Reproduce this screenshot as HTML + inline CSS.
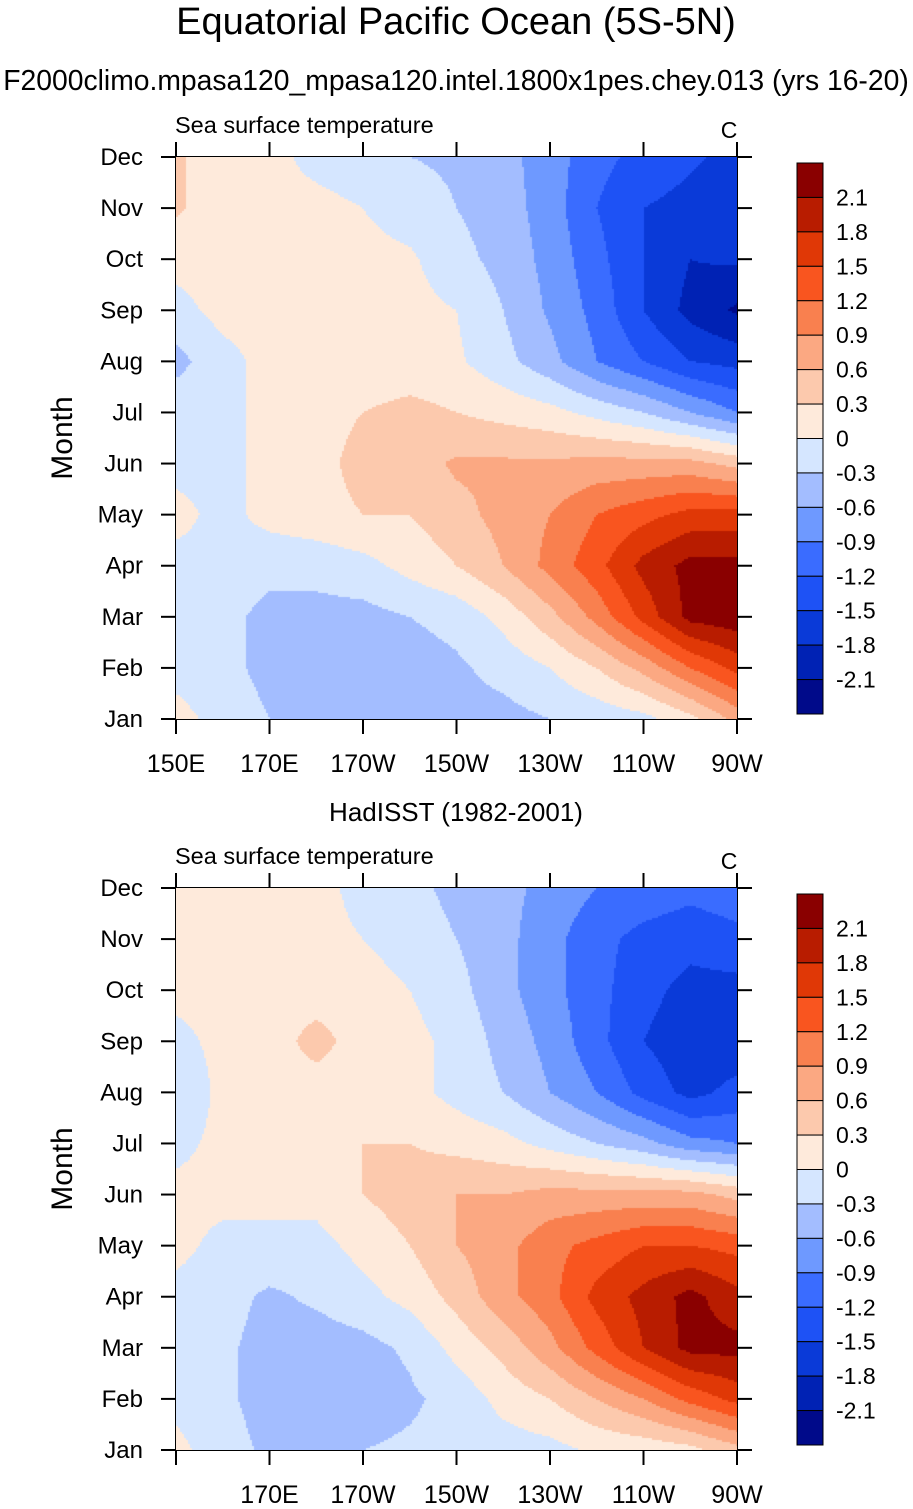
<!DOCTYPE html>
<html><head><meta charset="utf-8"><style>
body{margin:0;background:#fff;width:913px;height:1509px;position:relative;overflow:hidden;font-family:"Liberation Sans",sans-serif}
</style></head><body>
<svg id="svg" width="913" height="1509" xmlns="http://www.w3.org/2000/svg" style="position:absolute;left:0;top:0">
<text x="456" y="34" text-anchor="middle" font-size="38">Equatorial Pacific Ocean (5S-5N)</text>
<text x="456" y="90" text-anchor="middle" font-size="28.3">F2000climo.mpasa120_mpasa120.intel.1800x1pes.chey.013 (yrs 16-20)</text>
<text x="456" y="821" text-anchor="middle" font-size="26">HadISST (1982-2001)</text>
</svg>
<canvas id="c1" width="561" height="562" style="position:absolute;left:176px;top:157px"></canvas>
<canvas id="c2" width="561" height="562" style="position:absolute;left:176px;top:888px"></canvas>
<script>
const months=["Jan","Feb","Mar","Apr","May","Jun","Jul","Aug","Sep","Oct","Nov","Dec"];
const lons=[150,160,170,180,190,200,210,220,230,240,250,260,270];
const levels=[-2.1,-1.8,-1.5,-1.2,-0.9,-0.6,-0.3,0,0.3,0.6,0.9,1.2,1.5,1.8,2.1];
const colors=["#000a8a","#0022b4","#0a3ad8","#1e52f5","#3a6cff","#6e99ff","#a3bdff","#d5e6ff","#feeadb","#fcc9ad","#fba882","#f9804f","#f9551f","#e03806","#b81c00","#8a0000"];
const modelSST=[
[0.1,-0.1,-0.3,-0.4,-0.4,-0.4,-0.4,-0.4,-0.3,-0.2,-0.1,0.2,0.7],
[-0.1,-0.2,-0.4,-0.45,-0.45,-0.45,-0.35,-0.2,0.0,0.3,0.7,1.2,1.6],
[-0.1,-0.2,-0.4,-0.4,-0.4,-0.3,-0.2,0.1,0.5,1.0,1.6,2.2,2.3],
[-0.1,-0.1,-0.2,-0.2,-0.1,0.1,0.3,0.6,1.0,1.4,1.9,2.2,2.2],
[0.1,-0.1,0.1,0.2,0.3,0.3,0.5,0.7,0.9,1.2,1.4,1.6,1.6],
[-0.1,-0.1,0.1,0.2,0.4,0.45,0.65,0.65,0.65,0.7,0.7,0.7,0.5],
[-0.1,-0.1,0.1,0.2,0.3,0.4,0.3,0.2,0.1,-0.1,-0.3,-0.6,-0.9],
[-0.4,-0.1,0.1,0.1,0.1,0.1,0.05,-0.2,-0.5,-0.9,-1.2,-1.5,-1.6],
[-0.1,0.1,0.1,0.1,0.1,0.1,0.0,-0.3,-0.65,-1.0,-1.5,-1.9,-2.15],
[0.1,0.1,0.1,0.1,0.1,0.05,-0.2,-0.4,-0.7,-1.1,-1.5,-1.8,-1.75],
[0.35,0.1,0.1,0.1,0.0,-0.15,-0.3,-0.45,-0.75,-1.2,-1.5,-1.6,-1.65],
[0.35,0.1,0.1,-0.1,-0.2,-0.3,-0.35,-0.5,-0.75,-1.1,-1.3,-1.45,-1.6]];
const obsSST=[
[0.1,-0.2,-0.35,-0.35,-0.3,-0.25,-0.2,-0.15,-0.1,0.05,0.1,0.2,0.5],
[-0.1,-0.25,-0.4,-0.45,-0.45,-0.35,-0.2,0.1,0.3,0.6,0.9,1.3,1.6],
[-0.1,-0.25,-0.4,-0.45,-0.4,-0.25,0.1,0.4,0.8,1.3,1.8,2.2,2.2],
[-0.1,-0.2,-0.35,-0.25,-0.1,0.1,0.4,0.8,1.1,1.6,1.9,2.2,1.9],
[0.1,-0.1,-0.1,-0.1,0.1,0.3,0.6,0.8,1.1,1.3,1.5,1.5,1.4],
[0.1,0.1,0.1,0.1,0.3,0.45,0.6,0.6,0.7,0.7,0.7,0.7,0.5],
[-0.1,0.1,0.1,0.1,0.3,0.3,0.2,0.1,-0.1,-0.3,-0.5,-0.8,-0.9],
[-0.3,0.1,0.1,0.1,0.1,0.1,-0.1,-0.3,-0.6,-0.9,-1.3,-1.6,-1.4],
[-0.1,0.1,0.1,0.45,0.1,0.1,-0.1,-0.4,-0.7,-1.1,-1.5,-1.7,-1.7],
[0.1,0.1,0.1,0.1,0.1,0.0,-0.2,-0.5,-0.8,-1.1,-1.4,-1.6,-1.6],
[0.1,0.1,0.1,0.1,0.0,-0.1,-0.3,-0.5,-0.8,-1.1,-1.3,-1.4,-1.3],
[0.1,0.1,0.1,0.1,-0.1,-0.2,-0.4,-0.5,-0.7,-0.9,-1.0,-1.1,-1.0]];
const lonTickVals=[150,170,190,210,230,250,270];
const lonTickLabels=["150E","170E","170W","150W","130W","110W","90W"];
const cbLabels=["2.1","1.8","1.5","1.2","0.9","0.6","0.3","0","-0.3","-0.6","-0.9","-1.2","-1.5","-1.8","-2.1"];

const X0=176,X1=737,W=561,H=562;
const xs=l=>X0+(l-150)/120*W;
function colorOf(v){let i=0;while(i<levels.length&&v>=levels[i])i++;return colors[i];}
function draw(cv,data){
  const ctx=cv.getContext('2d');const s=2;
  for(let py=0;py<H;py+=s){
    const m=(H-py-s/2)/H*11;const r0=Math.min(10,Math.floor(m)),tm=m-r0;
    for(let px=0;px<W;px+=s){
      const g=(px+s/2)/W*12;const c0=Math.min(11,Math.floor(g)),tg=g-c0;
      const v=(data[r0][c0]*(1-tg)+data[r0][c0+1]*tg)*(1-tm)+(data[r0+1][c0]*(1-tg)+data[r0+1][c0+1]*tg)*tm;
      ctx.fillStyle=colorOf(v);ctx.fillRect(px,py,s,s);
    }
  }
}
draw(document.getElementById('c1'),modelSST);
draw(document.getElementById('c2'),obsSST);
const svg=document.getElementById('svg');const NS="http://www.w3.org/2000/svg";
function mk(tag,attrs,text){const e=document.createElementNS(NS,tag);for(const k in attrs)e.setAttribute(k,attrs[k]);if(text!==undefined)e.textContent=text;svg.appendChild(e);return e;}
function panel(Y0,showFirstLon,tag){
  const Y1=Y0+H;const ys=mi=>Y1-mi/11*H;
  const fr=mk('rect',{x:X0,y:Y0,width:W,height:H,fill:'none',stroke:'#000','stroke-width':2});
  
  
  const t=mk('text',{x:175,y:Y0-24,'font-size':23.5},'Sea surface temperature');
  
  
  const u=mk('text',{x:729,y:Y0-19,'font-size':23,'text-anchor':'middle'},'C');
  
  
  months.forEach((mn,i)=>{
    const y=ys(i);
    mk('line',{x1:X0-15,y1:y,x2:X0,y2:y,stroke:'#000','stroke-width':2});
    mk('line',{x1:X1,y1:y,x2:X1+15,y2:y,stroke:'#000','stroke-width':2});
    const l=mk('text',{x:143,y:y+8,'font-size':24,'text-anchor':'end'},mn);
    
    
  });
  lonTickVals.forEach((lv,i)=>{
    const x=xs(lv);
    mk('line',{x1:x,y1:Y0-15,x2:x,y2:Y0,stroke:'#000','stroke-width':2});
    mk('line',{x1:x,y1:Y1,x2:x,y2:Y1+15,stroke:'#000','stroke-width':2});
    if(i===0&&!showFirstLon)return;
    const l=mk('text',{x:x,y:Y1+53,'font-size':25,'text-anchor':'middle'},lonTickLabels[i]);
    
    
  });
  const yt=mk('text',{x:0,y:0,'font-size':30,'text-anchor':'middle',transform:`translate(72,${Y0+H/2}) rotate(-90)`},'Month');
  
  
  const cy0=Y0+6,ch=551,bh=ch/16;
  for(let i=0;i<16;i++){
    const r=mk('rect',{x:797,y:cy0+i*bh,width:26,height:bh,fill:colors[15-i],stroke:'#000','stroke-width':1});
    
    
  }
  cbLabels.forEach((lb,i)=>{
    const l=mk('text',{x:836,y:cy0+(i+1)*bh+8,'font-size':23},lb);
    
    
  });
}
panel(157,true,'top');
panel(888,false,'bottom');
</script>
</body></html>
